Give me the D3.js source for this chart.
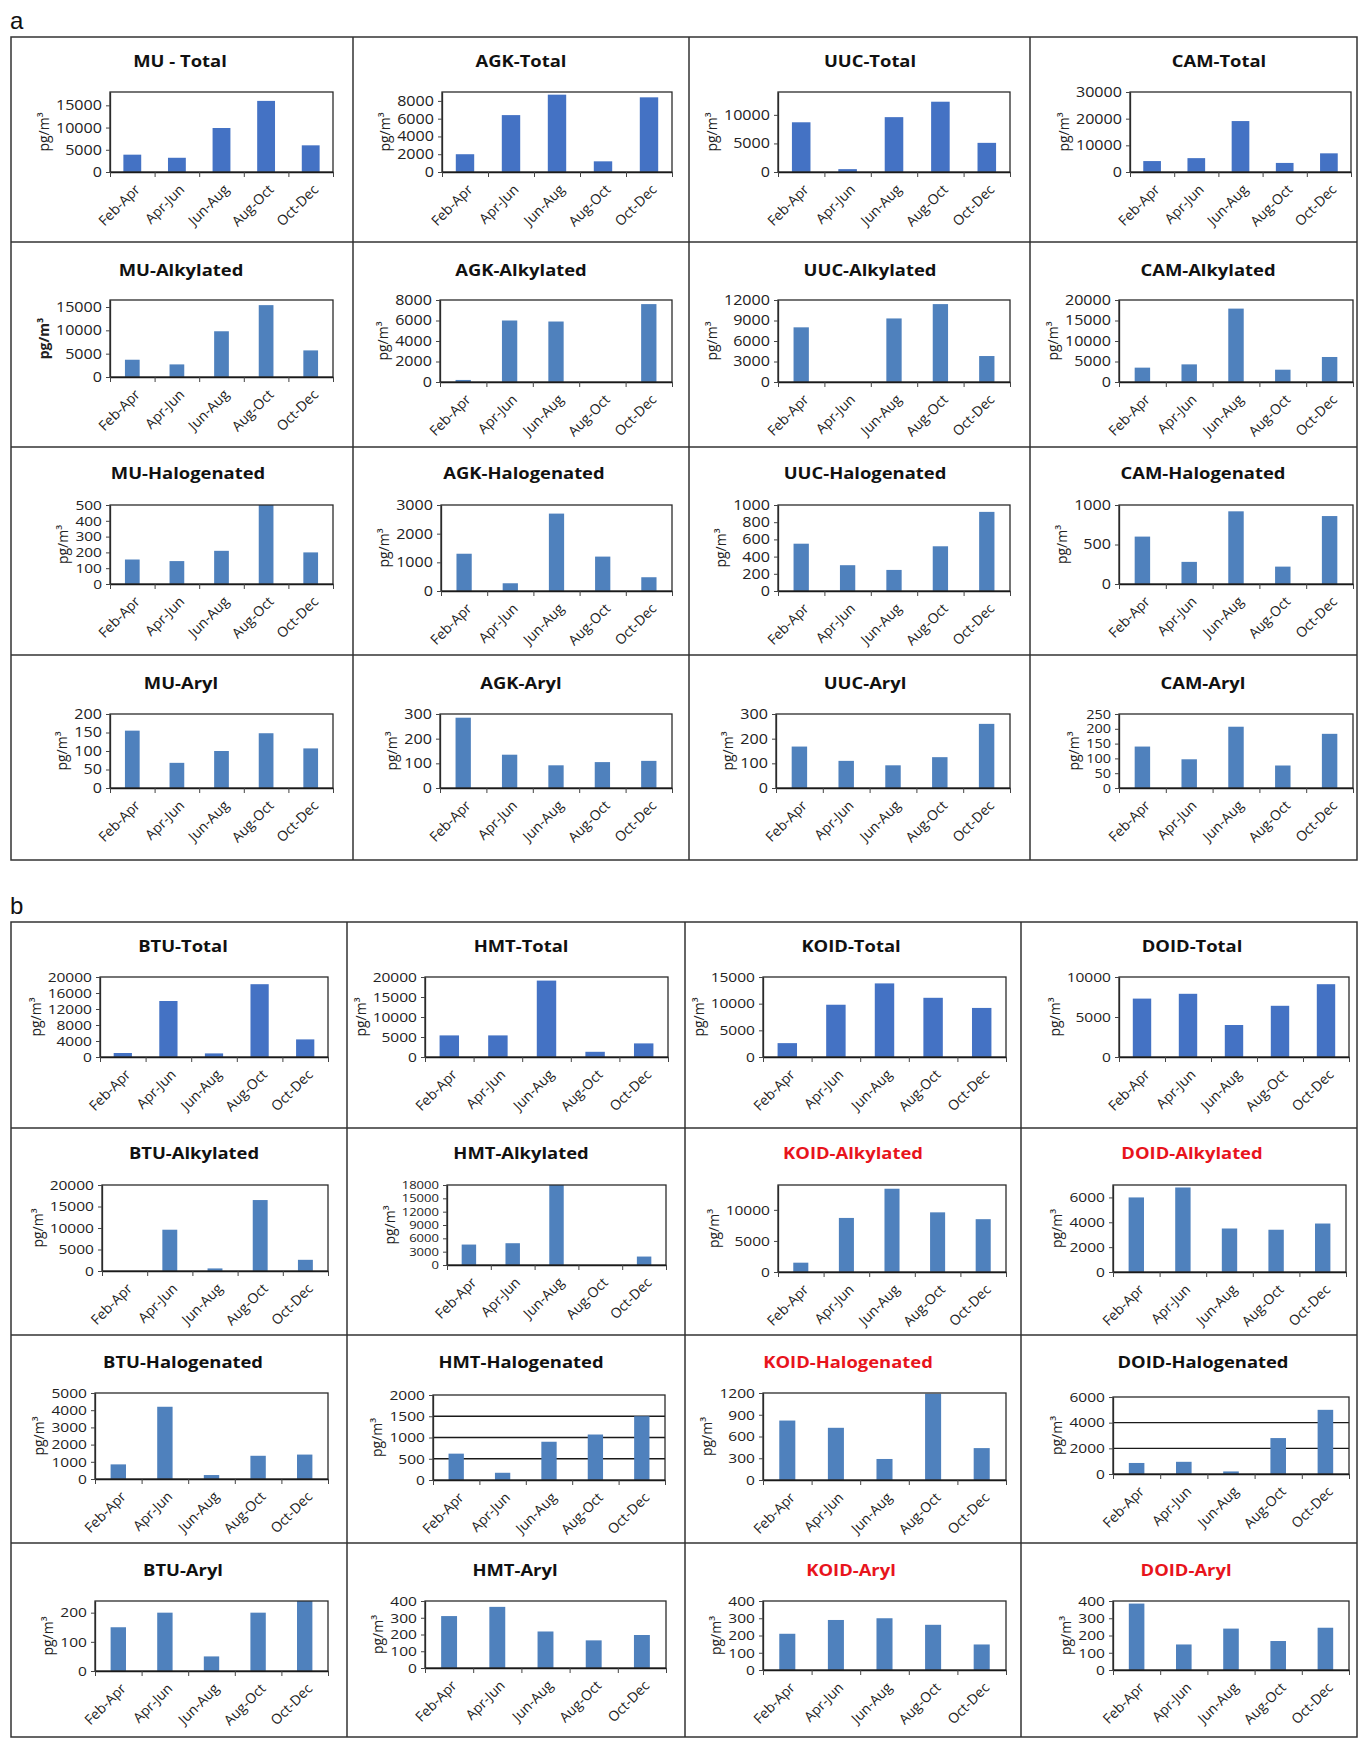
<!DOCTYPE html>
<html>
<head>
<meta charset="utf-8">
<script src="https://cdn.jsdelivr.net/npm/d3@7"></script>
<style>
  html, body { margin: 0; padding: 0; background: #fff; }
  svg { display: block; }
</style>
</head>
<body>
<script>
// Sampling periods (x categories)
const periods = ["Feb-Apr", "Apr-Jun", "Jun-Aug", "Aug-Oct", "Oct-Dec"];
const sitesA = ["MU", "AGK", "UUC", "CAM"];
const sitesB = ["BTU", "HMT", "KOID", "DOID"];
const classes = ["Total", "Alkylated", "Halogenated", "Aryl"];

// Concentrations in pg/m3, one array per site (order of sitesA / sitesB)
const totalA       = [[3900, 3200, 9900, 16000, 6000], [2000, 6400, 8700, 1200, 8400], [8700, 500, 9600, 12300, 5100], [4100, 5200, 19100, 3400, 7000]];
const alkylatedA   = [[3700, 2700, 9800, 15400, 5700], [200, 6000, 5900, 0, 7600], [8000, 0, 9300, 11400, 3800], [3500, 4300, 17900, 3000, 6100]];
const halogenatedA = [[155, 145, 210, 500, 200], [1300, 270, 2700, 1200, 480], [550, 300, 245, 520, 920], [600, 280, 920, 220, 860]];
const arylA        = [[155, 68, 100, 148, 107], [285, 135, 92, 105, 110], [168, 110, 92, 125, 260], [140, 97, 207, 76, 183]];

const totalB       = [[1000, 14000, 900, 18200, 4400], [5400, 5400, 19100, 1300, 3400], [2600, 9800, 13800, 11100, 9200], [7300, 7900, 4000, 6400, 9100]];
const alkylatedB   = [[0, 9600, 600, 16500, 2600], [4600, 4900, 18000, 0, 1900], [1500, 8700, 13400, 9600, 8500], [6000, 6800, 3500, 3400, 3900]];
const halogenatedB = [[850, 4200, 230, 1350, 1420], [620, 170, 900, 1070, 1500], [820, 720, 290, 1190, 440], [860, 950, 200, 2800, 5000]];
const arylB        = [[150, 200, 50, 200, 240], [310, 365, 218, 165, 197], [210, 290, 300, 262, 148], [385, 148, 240, 168, 245]];

// Y tick labels and axis maxima, rows = classes, columns = sites
const yTicksA = [
  [[0, 5000, 10000, 15000], [0, 2000, 4000, 6000, 8000], [0, 5000, 10000], [0, 10000, 20000, 30000]],
  [[0, 5000, 10000, 15000], [0, 2000, 4000, 6000, 8000], [0, 3000, 6000, 9000, 12000], [0, 5000, 10000, 15000, 20000]],
  [[0, 100, 200, 300, 400, 500], [0, 1000, 2000, 3000], [0, 200, 400, 600, 800, 1000], [0, 500, 1000]],
  [[0, 50, 100, 150, 200], [0, 100, 200, 300], [0, 100, 200, 300], [0, 50, 100, 150, 200, 250]]
];
const yMaxA = [[18000, 9000, 14000, 30000], [16500, 8000, 12000, 20000], [500, 3000, 1000, 1000], [200, 300, 300, 250]];

const yTicksB = [
  [[0, 4000, 8000, 12000, 16000, 20000], [0, 5000, 10000, 15000, 20000], [0, 5000, 10000, 15000], [0, 5000, 10000]],
  [[0, 5000, 10000, 15000, 20000], [0, 3000, 6000, 9000, 12000, 15000, 18000], [0, 5000, 10000], [0, 2000, 4000, 6000]],
  [[0, 1000, 2000, 3000, 4000, 5000], [0, 500, 1000, 1500, 2000], [0, 300, 600, 900, 1200], [0, 2000, 4000, 6000]],
  [[0, 100, 200], [0, 100, 200, 300, 400], [0, 100, 200, 300, 400], [0, 100, 200, 300, 400]]
];
const yMaxB = [[20000, 20000, 15000, 10000], [20000, 18000, 14000, 7000], [5000, 2000, 1200, 6000], [240, 400, 400, 400]];

// Titles shown in red, and charts with horizontal gridlines
const redTitles = ["KOID-Alkylated", "DOID-Alkylated", "KOID-Halogenated", "KOID-Aryl", "DOID-Aryl"];
const griddedCharts = ["HMT-Halogenated", "DOID-Halogenated"];

// ---------- page layout ----------
const W = 1360, H = 1738;
const FONT = "'Open Sans', 'Noto Sans', sans-serif";
const STRETCH = 1.15;   // horizontal stretch applied to tick labels and titles

// plot rectangles [left, right, top, axis] for each cell
const plotBoxA = [
  [[110, 333, 92, 172], [442, 672, 92, 172], [778, 1010, 92, 172], [1130, 1351, 92, 172]],
  [[110, 333, 300, 377], [440, 672, 300, 382], [778, 1010, 300, 382], [1119, 1353, 300, 382]],
  [[110, 333, 505, 584], [441, 672, 505, 591], [778, 1010, 505, 591], [1119, 1353, 505, 584]],
  [[110, 333, 714, 788], [440, 672, 714, 788], [776, 1010, 714, 788], [1119, 1353, 714, 788]]
];
const plotBoxB = [
  [[100, 328, 977, 1057], [425, 668, 977, 1057], [763, 1006, 977, 1057], [1119, 1349, 977, 1057]],
  [[102, 328, 1185, 1271], [447, 666, 1185, 1265], [778, 1006, 1185, 1272], [1113, 1346, 1185, 1272]],
  [[95, 328, 1393, 1479], [433, 665, 1395, 1480], [763, 1006, 1393, 1480], [1113, 1349, 1397, 1474]],
  [[95, 328, 1601, 1671], [425, 666, 1601, 1668], [763, 1006, 1601, 1670], [1113, 1349, 1601, 1670]]
];
const titlePosA = { x: [[180, 521, 870, 1219], [181, 521, 870, 1208], [188, 524, 865, 1203], [181, 521, 865, 1203]], y: [67, 276, 479, 689] };
const titlePosB = { x: [[183, 521, 851, 1192], [194, 521, 853, 1192], [183, 521, 848, 1203], [183, 515, 851, 1186]], y: [952, 1159, 1368, 1576] };

const frameA = { x: [11, 353, 689, 1030, 1357], y: [37, 242, 447, 655, 860] };
const frameB = { x: [11, 347, 685, 1021, 1357], y: [922, 1128, 1335, 1543, 1737] };

const svg = d3.select("body").append("svg")
  .attr("width", W).attr("height", H)
  .attr("font-family", FONT);
svg.append("rect").attr("width", W).attr("height", H).attr("fill", "#fff");

// panel letters
svg.append("text").attr("x", 10).attr("y", 29).attr("font-family", "'Liberation Sans', Arial, sans-serif")
  .attr("font-size", 24).attr("fill", "#111").text("a");
svg.append("text").attr("x", 10).attr("y", 914).attr("font-family", "'Liberation Sans', Arial, sans-serif")
  .attr("font-size", 24).attr("fill", "#111").text("b");

// table grid around the charts
function drawFrame(f) {
  const g = svg.append("g").attr("stroke", "#333").attr("stroke-width", 1.5).attr("fill", "none");
  g.append("rect").attr("x", f.x[0]).attr("y", f.y[0])
    .attr("width", f.x[4] - f.x[0]).attr("height", f.y[4] - f.y[0]);
  f.x.slice(1, 4).forEach(v => g.append("line").attr("x1", v).attr("x2", v).attr("y1", f.y[0]).attr("y2", f.y[4]));
  f.y.slice(1, 4).forEach(v => g.append("line").attr("x1", f.x[0]).attr("x2", f.x[4]).attr("y1", v).attr("y2", v));
}
drawFrame(frameA);
drawFrame(frameB);

function drawChart(box, values, ticks, yMax, title, tx, ty, opts) {
  const [L, R, T, B] = box;
  const g = svg.append("g");

  const x = d3.scaleBand().domain(periods).range([L, R])
    .paddingInner(opts.pad).paddingOuter(opts.pad / 2);
  const y = d3.scaleLinear().domain([0, yMax]).range([B, T]).clamp(true);
  const bounds = d3.scaleLinear().domain([0, periods.length]).range([L, R]);

  // horizontal gridlines
  if (opts.grid) {
    g.append("g").selectAll("line")
      .data(ticks.filter(t => t > 0 && t < yMax))
      .join("line")
      .attr("x1", L).attr("x2", R)
      .attr("y1", d => y(d)).attr("y2", d => y(d))
      .attr("stroke", "#1a1a1a").attr("stroke-width", 1.4);
  }

  // bars
  g.append("g").selectAll("rect")
    .data(values)
    .join("rect")
    .attr("x", (d, i) => x(periods[i]))
    .attr("width", x.bandwidth())
    .attr("y", d => y(d))
    .attr("height", d => B - y(d))
    .attr("fill", opts.color);

  // plot frame
  g.append("rect").attr("x", L).attr("y", T).attr("width", R - L).attr("height", B - T)
    .attr("fill", "none").attr("stroke", "#2b2b2b").attr("stroke-width", 1.3);

  // y axis
  const spacing = (B - T) * (ticks[1] - ticks[0]) / yMax;
  const fs = Math.max(11, Math.min(opts.tickSize, spacing * 0.85));
  const ya = g.append("g").attr("transform", `translate(${L},0)`)
    .call(d3.axisLeft(y).tickValues(ticks).tickSize(4).tickSizeOuter(0).tickPadding(3).tickFormat(d3.format("d")));
  ya.select(".domain").attr("stroke", "#2b2b2b").attr("stroke-width", 1.3);
  ya.selectAll(".tick line").attr("stroke", "#444");
  ya.selectAll("text")
    .attr("font-family", FONT).attr("font-size", fs).attr("fill", "#222")
    .attr("transform", `scale(${STRETCH},1)`);

  // category boundary ticks on the x axis
  const xb = g.append("g").attr("transform", `translate(0,${B})`)
    .call(d3.axisBottom(bounds).tickValues(d3.range(periods.length + 1)).tickSize(5).tickSizeOuter(0).tickFormat(""));
  xb.select(".domain").attr("stroke", "#1a1a1a").attr("stroke-width", 1.7);
  xb.selectAll(".tick line").attr("stroke", "#444");

  // rotated category labels
  const xl = g.append("g").attr("transform", `translate(0,${B})`)
    .call(d3.axisBottom(x).tickSize(0).tickPadding(0));
  xl.select(".domain").remove();
  xl.selectAll("text")
    .attr("y", 0).attr("dy", "0.35em")
    .attr("transform", "translate(5,15) rotate(-45)")
    .attr("text-anchor", "end")
    .attr("font-family", FONT).attr("font-size", 14).attr("fill", "#222");

  // y axis unit label
  const bb = ya.node().getBBox();
  g.append("text")
    .attr("transform", `translate(${L + bb.x - 7},${(T + B) / 2}) rotate(-90)`)
    .attr("text-anchor", "middle")
    .attr("font-size", 14)
    .attr("font-weight", opts.boldUnit ? "bold" : "normal")
    .attr("fill", "#222")
    .text("pg/m³");

  // chart title
  g.append("text")
    .attr("transform", `translate(${tx},${ty}) scale(${STRETCH},1)`)
    .attr("text-anchor", "middle")
    .attr("font-size", 16).attr("font-weight", "bold")
    .attr("fill", redTitles.includes(title) ? "#e8141c" : "#111")
    .text(title);
}

function drawPanel(sites, data, yTicks, yMax, boxes, tpos, tickSize) {
  classes.forEach((cls, r) => {
    sites.forEach((site, c) => {
      const name = site === "MU" && cls === "Total" ? "MU - Total" : `${site}-${cls}`;
      drawChart(boxes[r][c], data[r][c], yTicks[r][c], yMax[r][c], name,
        tpos.x[r][c], tpos.y[r], {
          color: cls === "Total" ? "#4472c4" : "#4f81bd",
          pad: cls === "Total" ? 0.6 : 0.67,
          grid: griddedCharts.includes(name),
          boldUnit: name === "MU-Alkylated",
          tickSize: tickSize
        });
    });
  });
}

drawPanel(sitesA, [totalA, alkylatedA, halogenatedA, arylA], yTicksA, yMaxA, plotBoxA, titlePosA, 14);
drawPanel(sitesB, [totalB, alkylatedB, halogenatedB, arylB], yTicksB, yMaxB, plotBoxB, titlePosB, 13.5);
</script>
</body>
</html>
